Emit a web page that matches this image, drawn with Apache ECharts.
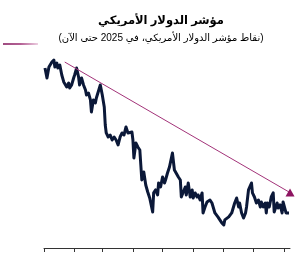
<!DOCTYPE html>
<html>
<head>
<meta charset="utf-8">
<script src="https://cdn.jsdelivr.net/npm/echarts@6/dist/echarts.min.js"></script>
<style>
html,body{margin:0;padding:0;background:#fff;}
#c{width:304px;height:277px;}
</style>
</head>
<body>
<div id="c"></div>
<script>
const titleText = 'مؤشر الدولار الأمريكي';
const subtitleText = '(نقاط مؤشر الدولار الأمريكي، في 2025 حتى الآن)';

const dates = [
'2025-01-02','2025-01-04','2025-01-06','2025-01-09','2025-01-11','2025-01-12','2025-01-14','2025-01-15','2025-01-17','2025-01-19',
'2025-01-21','2025-01-22','2025-01-24','2025-01-26','2025-01-27','2025-01-29','2025-01-31','2025-02-01','2025-02-03','2025-02-05',
'2025-02-06','2025-02-08','2025-02-10','2025-02-12','2025-02-13','2025-02-15','2025-02-17','2025-02-18','2025-02-20','2025-02-22',
'2025-02-23','2025-02-25','2025-02-27','2025-03-01','2025-03-03','2025-03-04','2025-03-05','2025-03-07','2025-03-09','2025-03-11',
'2025-03-13','2025-03-15','2025-03-17','2025-03-19','2025-03-21','2025-03-23','2025-03-25','2025-03-27','2025-03-29','2025-03-31',
'2025-04-01','2025-04-02','2025-04-04','2025-04-06','2025-04-08','2025-04-09','2025-04-10','2025-04-12','2025-04-14','2025-04-16',
'2025-04-18','2025-04-21','2025-04-22','2025-04-24','2025-04-26','2025-04-27','2025-04-29','2025-05-01','2025-05-03','2025-05-04',
'2025-05-06','2025-05-08','2025-05-09','2025-05-11','2025-05-13','2025-05-15','2025-05-17','2025-05-19','2025-05-20','2025-05-22',
'2025-05-24','2025-05-25','2025-05-27','2025-05-29','2025-05-31','2025-06-01','2025-06-03','2025-06-05','2025-06-06','2025-06-08',
'2025-06-10','2025-06-11','2025-06-13','2025-06-15','2025-06-18','2025-06-20','2025-06-23','2025-06-26','2025-06-30','2025-07-02',
'2025-07-03','2025-07-07','2025-07-10','2025-07-13','2025-07-15','2025-07-17','2025-07-18','2025-07-20','2025-07-22','2025-07-24',
'2025-07-25','2025-07-27','2025-07-30','2025-07-31','2025-08-02','2025-08-04','2025-08-06','2025-08-08','2025-08-09','2025-08-11',
'2025-08-13','2025-08-14','2025-08-15','2025-08-17','2025-08-19','2025-08-21','2025-08-22','2025-08-25','2025-08-26','2025-08-28',
'2025-08-30','2025-08-31','2025-09-02','2025-09-03','2025-09-05','2025-09-06'
];
const dxy = [
109.33,108.50,109.42,109.83,110.00,109.42,109.75,109.33,109.58,108.75,
108.17,108.08,107.75,108.08,107.67,107.92,108.50,108.75,109.33,108.58,
107.92,108.50,107.92,107.50,107.08,107.25,106.67,105.67,106.67,106.42,
106.83,106.67,107.92,107.08,106.08,104.58,103.92,103.58,103.75,103.33,
103.58,103.33,102.92,103.58,103.92,103.75,104.42,103.92,104.00,104.00,
103.33,101.83,103.08,102.75,102.50,101.25,100.00,100.67,99.58,99.00,
98.50,97.33,98.92,99.17,98.75,99.75,99.42,100.25,99.75,100.00,
100.58,101.08,101.00,102.25,100.83,100.67,100.25,100.00,98.58,98.50,
99.42,98.75,99.75,98.58,99.17,98.50,98.92,98.58,98.75,98.33,
98.92,97.25,97.75,98.17,98.33,98.08,97.25,96.92,96.42,96.25,
96.67,96.92,97.25,98.08,98.50,97.75,98.08,97.25,96.83,97.25,
97.75,99.17,99.75,98.92,98.58,98.08,98.33,97.75,98.17,97.75,
98.08,97.25,98.08,97.75,98.58,98.92,97.33,98.08,97.67,97.92,
97.25,98.17,98.33,97.25,97.25,97.25
];
const trendDates = ['2025-01-22','2025-09-07'];
const trendValues = [109.83, 98.95];
const monthTicks = ['2025-01-01','2025-02-01','2025-03-01','2025-04-01','2025-05-01','2025-06-01','2025-07-01','2025-08-01','2025-09-01'];
const xMin = '2025-01-01', xMax = '2025-09-07';

function ts(s){ const p = s.split('-').map(Number); return +new Date(p[0], p[1]-1, p[2]); }

const chart = echarts.init(document.getElementById('c'), null, {renderer:'canvas'});
const font = '"Liberation Sans","DejaVu Sans",Arial,sans-serif';
chart.setOption({
  animation:false,
  backgroundColor:'#ffffff',
  title:{
    text:titleText, subtext:subtitleText, left:156, textAlign:'center', top:10, itemGap:6,
    textStyle:{fontSize:11.5, fontWeight:'bold', color:'#000', fontFamily:font},
    subtextStyle:{fontSize:10, color:'#000', fontFamily:font}
  },
  grid:{left:44, right:14, top:48, bottom:29, containLabel:false},
  xAxis:{
    type:'time', min:ts(xMin), max:ts(xMax),
    axisLine:{show:true, lineStyle:{color:'#333', width:1}},
    axisTick:{show:true, inside:false, length:4, customValues:monthTicks.map(ts), lineStyle:{color:'#333'}},
    axisLabel:{show:false},
    splitLine:{show:false}
  },
  yAxis:{
    type:'value', min:94.33, max:111, show:false, splitLine:{show:false}
  },
  series:[
    {
      type:'line', data:dates.map((d,i)=>[ts(d), dxy[i]]),
      showSymbol:false, symbol:'none',
      lineStyle:{color:'#0b1838', width:3, join:'round'}
    },
    {
      type:'line',
      data:trendDates.map((d,i)=>({value:[ts(d), trendValues[i]], symbol: i===trendDates.length-1 ? 'triangle' : 'none', symbolSize: [9,8]})),
      showSymbol:true, showAllSymbol:true, clip:false,
      itemStyle:{color:'#8e1461'},
      lineStyle:{color:'#a33379', width:1}
    }
  ],
  graphic:[
    {type:'line', shape:{x1:3,y1:44,x2:38,y2:44},
     style:{lineWidth:1.5, stroke:new echarts.graphic.LinearGradient(0,0,1,0,[{offset:0,color:'#7a0c52'},{offset:0.5,color:'#9a2a70'},{offset:1,color:'#f2d4e6'}])}}
  ]
});
</script>
</body>
</html>
